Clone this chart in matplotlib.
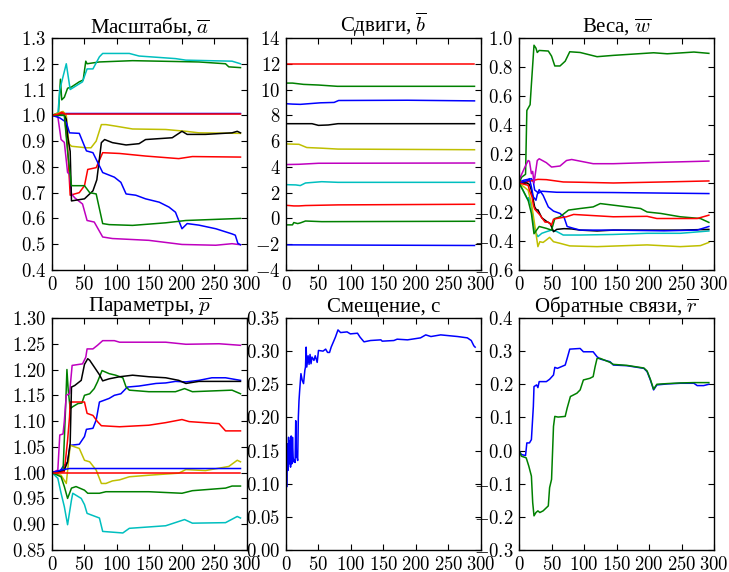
import matplotlib
matplotlib.use("Agg")
import matplotlib.pyplot as plt
from matplotlib.ticker import FormatStrFormatter, MultipleLocator

plt.rcParams['font.family'] = ['Liberation Serif', 'DejaVu Serif']
plt.rcParams['mathtext.fontset'] = 'cm'

# ---- data: (iteration, value) pairs ----
# Масштабы, a
a_blue_flat = [(0, 1.0), (10, 1.007), (290, 1.007)]
a_green_up = [(0, 1.0), (10, 1.01), (13, 1.14), (15, 1.06), (19, 1.07), (24, 1.105), (30, 1.11),
              (42, 1.13), (48, 1.137), (52, 1.21), (54, 1.2), (73, 1.207), (124, 1.212),
              (226, 1.207), (267, 1.2), (272, 1.188), (290, 1.185)]
a_red_low = [(0, 1.0), (19, 1.008), (24, 0.88), (28, 0.69), (42, 0.70), (50, 0.727), (55, 0.79),
             (68, 0.797), (78, 0.855), (104, 0.852), (144, 0.842), (195, 0.832), (216, 0.84),
             (290, 0.838)]
a_cyan = [(0, 1.0), (9, 1.0), (12, 1.1), (22, 1.2), (28, 1.1), (47, 1.13), (54, 1.18), (63, 1.18),
          (73, 1.227), (78, 1.24), (119, 1.24), (134, 1.23), (190, 1.22), (206, 1.214),
          (277, 1.21), (290, 1.2)]
a_magenta = [(0, 1.0), (9, 0.995), (14, 0.906), (19, 0.895), (24, 0.778), (27, 0.772), (30, 0.695),
             (35, 0.68), (47, 0.656), (54, 0.592), (65, 0.586), (78, 0.528), (93, 0.522),
             (149, 0.515), (200, 0.499), (252, 0.496), (277, 0.502), (290, 0.498)]
a_yellow = [(0, 1.0), (17, 1.015), (22, 1.0), (26, 0.89), (30, 0.88), (53, 0.874), (60, 0.874),
            (68, 0.9), (76, 0.964), (83, 0.964), (98, 0.958), (124, 0.947), (175, 0.945),
            (206, 0.938), (226, 0.932), (290, 0.93)]
a_black = [(0, 1.0), (19, 1.0), (22, 0.985), (24, 0.92), (28, 0.86), (30, 0.668), (50, 0.676),
           (55, 0.688), (63, 0.707), (69, 0.75), (76, 0.894), (81, 0.906), (93, 0.894),
           (114, 0.885), (134, 0.89), (144, 0.906), (185, 0.913), (200, 0.938), (208, 0.926),
           (236, 0.926), (277, 0.932), (285, 0.938), (290, 0.932)]
a_blue_down = [(0, 1.0), (12, 0.99), (22, 0.973), (27, 0.932), (42, 0.93), (53, 0.862), (63, 0.855),
               (78, 0.778), (96, 0.76), (106, 0.74), (114, 0.695), (129, 0.69), (144, 0.676),
               (165, 0.663), (180, 0.644), (190, 0.624), (200, 0.56), (208, 0.58), (226, 0.574),
               (252, 0.56), (277, 0.54), (282, 0.535), (286, 0.503), (290, 0.498)]
a_green_low = [(0, 1.0), (19, 1.0), (24, 0.86), (30, 0.727), (50, 0.727), (58, 0.70), (68, 0.695),
               (78, 0.58), (88, 0.576), (124, 0.573), (175, 0.583), (206, 0.592), (290, 0.60)]
a_red_flat = [(0, 1.0), (10, 1.005), (15, 1.012), (20, 1.005), (290, 1.005)]

# Сдвиги, b
b_red_top = [(0, 12.0), (290, 12.0)]
b_green_top = [(0, 10.5), (10, 10.5), (27, 10.4), (50, 10.35), (79, 10.25), (290, 10.25)]
b_blue_top = [(0, 8.9), (10, 8.87), (22, 8.85), (40, 8.92), (53, 8.97), (74, 9.0), (81, 9.15),
              (187, 9.17), (290, 9.12)]
b_black = [(0, 7.35), (40, 7.35), (50, 7.22), (65, 7.25), (80, 7.35), (290, 7.35)]
b_yellow = [(0, 5.78), (20, 5.75), (32, 5.5), (55, 5.45), (80, 5.38), (290, 5.33)]
b_magenta = [(0, 4.18), (20, 4.2), (50, 4.28), (290, 4.3)]
b_cyan = [(0, 2.62), (15, 2.6), (22, 2.55), (30, 2.75), (55, 2.85), (80, 2.8), (290, 2.8)]
b_red_low = [(0, 1.02), (12, 0.97), (20, 0.97), (30, 1.0), (80, 1.05), (290, 1.1)]
b_green_low = [(0, -0.5), (10, -0.5), (12, -0.32), (18, -0.4), (22, -0.35), (30, -0.2),
               (55, -0.25), (290, -0.22)]
b_blue_low = [(0, -2.05), (290, -2.1)]

# Веса, w
w_green_top = [(0, 0.0), (4, 0.04), (10, 0.06), (12, 0.5), (17, 0.54), (19, 0.68), (23, 0.95),
               (26, 0.93), (28, 0.9), (31, 0.914), (45, 0.91), (50, 0.875), (55, 0.807),
               (63, 0.807), (71, 0.84), (78, 0.905), (94, 0.9), (120, 0.871), (145, 0.88),
               (207, 0.898), (228, 0.891), (269, 0.903), (292, 0.894)]
w_magenta = [(0, 0.02), (9, 0.11), (14, 0.155), (16, 0.15), (19, 0.064), (21, 0.08), (23, 0.0),
             (28, 0.155), (31, 0.167), (42, 0.14), (50, 0.11), (63, 0.117), (73, 0.155),
             (81, 0.162), (114, 0.133), (145, 0.133), (197, 0.14), (292, 0.151)]
w_red_top = [(0, 0.007), (12, 0.007), (22, 0.018), (29, 0.025), (42, 0.023), (68, 0.007),
             (94, 0.005), (145, 0.0), (222, 0.007), (292, 0.014)]
w_blue_top = [(0, 0.007), (8, 0.02), (19, 0.03), (22, 0.007), (24, -0.048), (30, -0.07),
              (35, -0.057), (58, -0.064), (145, -0.066), (292, -0.073)]
w_green_low = [(0, 0.0), (6, -0.05), (14, -0.12), (19, -0.21), (23, -0.35), (27, -0.325),
               (31, -0.3), (42, -0.313), (50, -0.325), (55, -0.245), (63, -0.233), (76, -0.187),
               (94, -0.176), (114, -0.165), (125, -0.142), (145, -0.153), (187, -0.176),
               (197, -0.2), (218, -0.21), (248, -0.233), (279, -0.245), (292, -0.272)]
w_red_low = [(0, 0.0), (14, -0.016), (16, -0.05), (20, -0.096), (22, -0.15), (24, -0.18),
             (32, -0.22), (40, -0.27), (45, -0.27), (50, -0.29), (53, -0.25), (58, -0.245),
             (73, -0.233), (84, -0.217), (145, -0.233), (197, -0.23), (212, -0.245),
             (274, -0.245), (292, -0.222)]
w_blue_low = [(0, 0.0), (14, 0.018), (16, 0.03), (19, -0.027), (22, -0.096), (26, -0.119),
              (28, -0.08), (31, -0.046), (37, -0.085), (45, -0.165), (53, -0.194), (63, -0.21),
              (69, -0.233), (74, -0.3), (84, -0.313), (94, -0.325), (145, -0.325), (223, -0.33),
              (274, -0.325), (292, -0.3)]
w_black = [(0, 0.0), (12, 0.0), (16, -0.01), (19, -0.05), (22, -0.119), (24, -0.165),
           (27, -0.187), (29, -0.185), (35, -0.24), (43, -0.267), (48, -0.28), (53, -0.336),
           (58, -0.32), (69, -0.315), (81, -0.317), (94, -0.325), (120, -0.331), (145, -0.325),
           (248, -0.325), (292, -0.32)]
w_cyan = [(0, 0.0), (6, -0.05), (11, -0.096), (14, -0.12), (15, -0.1), (19, -0.165), (24, -0.325),
          (29, -0.37), (35, -0.347), (42, -0.336), (50, -0.325), (58, -0.335), (68, -0.359),
          (94, -0.359), (145, -0.355), (197, -0.347), (248, -0.347), (292, -0.331)]
w_yellow = [(0, 0.0), (14, -0.05), (19, -0.14), (23, -0.256), (26, -0.347), (29, -0.439),
            (32, -0.405), (37, -0.41), (42, -0.393), (47, -0.375), (53, -0.405), (63, -0.416),
            (78, -0.434), (120, -0.439), (197, -0.427), (248, -0.439), (279, -0.432),
            (292, -0.41)]

# Параметры, p
p_magenta = [(0, 1.0), (9, 1.005), (12, 1.073), (17, 1.075), (19, 1.1), (22, 1.15), (27, 1.153),
             (31, 1.208), (47, 1.211), (52, 1.224), (54, 1.24), (63, 1.24), (70, 1.247),
             (78, 1.256), (96, 1.256), (104, 1.253), (175, 1.253), (206, 1.249), (257, 1.25),
             (290, 1.247)]
p_black = [(0, 1.0), (19, 1.005), (24, 1.021), (28, 1.057), (30, 1.166), (35, 1.169), (45, 1.179),
           (50, 1.21), (55, 1.221), (58, 1.218), (65, 1.205), (73, 1.19), (78, 1.178),
           (88, 1.182), (104, 1.186), (124, 1.189), (149, 1.186), (175, 1.184), (195, 1.179),
           (206, 1.173), (226, 1.177), (290, 1.177)]
p_blue_up = [(0, 1.0), (12, 1.002), (17, 1.012), (24, 1.02), (28, 1.053), (42, 1.055), (50, 1.07),
             (53, 1.084), (63, 1.086), (68, 1.102), (73, 1.137), (88, 1.144), (96, 1.15),
             (106, 1.153), (116, 1.166), (134, 1.168), (160, 1.173), (175, 1.174), (190, 1.177),
             (206, 1.176), (226, 1.179), (246, 1.184), (267, 1.184), (290, 1.179)]
p_green_up = [(0, 1.0), (17, 1.002), (21, 1.128), (23, 1.2), (25, 1.16), (28, 1.124), (32, 1.128),
              (40, 1.134), (46, 1.135), (50, 1.15), (58, 1.153), (65, 1.163), (70, 1.176),
              (77, 1.198), (88, 1.192), (98, 1.189), (109, 1.184), (114, 1.166), (119, 1.16),
              (149, 1.157), (190, 1.157), (204, 1.163), (216, 1.157), (277, 1.16), (290, 1.153)]
p_red_up = [(0, 1.0), (19, 1.002), (24, 1.063), (27, 1.108), (28, 1.137), (50, 1.137),
            (54, 1.115), (63, 1.111), (70, 1.099), (76, 1.091), (104, 1.089), (149, 1.092),
            (175, 1.097), (200, 1.103), (211, 1.099), (257, 1.095), (267, 1.081), (290, 1.081)]
p_yellow = [(0, 1.0), (14, 0.995), (22, 0.979), (28, 1.053), (42, 1.047), (50, 1.024),
            (58, 1.021), (68, 1.005), (76, 0.979), (83, 0.979), (93, 0.984), (104, 0.986),
            (119, 0.992), (149, 0.995), (195, 0.999), (206, 1.006), (236, 1.004), (272, 1.012),
            (285, 1.024), (290, 1.021)]
p_blue_flat = [(0, 1.0), (14, 1.005), (27, 1.008), (290, 1.008)]
p_green_low = [(0, 1.0), (14, 0.992), (19, 0.973), (24, 0.95), (30, 0.97), (37, 0.973),
               (50, 0.966), (55, 0.96), (73, 0.96), (83, 0.963), (149, 0.963), (200, 0.96),
               (216, 0.965), (267, 0.97), (277, 0.974), (290, 0.974)]
p_cyan = [(0, 1.0), (9, 0.989), (14, 0.96), (19, 0.934), (24, 0.899), (30, 0.947), (32, 0.96),
          (45, 0.95), (50, 0.938), (54, 0.921), (73, 0.912), (78, 0.886), (109, 0.883),
          (119, 0.892), (175, 0.897), (204, 0.909), (216, 0.902), (267, 0.903), (285, 0.915),
          (290, 0.912)]
p_red_flat = [(0, 1.0), (290, 1.0)]

# Смещение, c
c_blue = [(0, 0.19), (1, 0.095), (2, 0.16), (3, 0.12), (4, 0.17), (5, 0.13), (6, 0.165),
          (7, 0.125), (8, 0.172), (9, 0.13), (10, 0.17), (11, 0.14), (12, 0.133), (13, 0.135),
          (14, 0.132), (15, 0.195), (16, 0.14), (17, 0.14), (18, 0.135), (19, 0.2), (20, 0.225),
          (21, 0.24), (23, 0.266), (25, 0.256), (27, 0.251), (29, 0.271), (30, 0.276),
          (31, 0.306), (32, 0.276), (34, 0.293), (35.5, 0.28), (37, 0.295), (38.5, 0.281),
          (40, 0.291), (43, 0.286), (45, 0.293), (48, 0.283), (50, 0.301), (57, 0.30),
          (61, 0.303), (64, 0.298), (67, 0.298), (69.5, 0.306), (76, 0.321), (80, 0.332),
          (84, 0.328), (94, 0.329), (99, 0.326), (110, 0.327), (114, 0.321), (120, 0.314),
          (130, 0.316), (146, 0.317), (148, 0.315), (166, 0.316), (171, 0.318), (187, 0.317),
          (207, 0.32), (215, 0.3245), (223, 0.322), (238, 0.3245), (264, 0.322), (279, 0.32),
          (285, 0.316), (289, 0.308), (291, 0.306)]

# Обратные связи, r
r_blue = [(0, 0.0), (3.6, -0.012), (10, -0.015), (12, 0.023), (16, 0.023), (19, 0.033),
          (22, 0.133), (23, 0.193), (27, 0.198), (29, 0.19), (31, 0.208), (42, 0.208),
          (47, 0.215), (53, 0.228), (55, 0.251), (59, 0.248), (71, 0.258), (74, 0.278),
          (78, 0.306), (94, 0.308), (99, 0.298), (114, 0.298), (120, 0.283), (125, 0.276),
          (140, 0.268), (145, 0.258), (166, 0.256), (192, 0.248), (197, 0.238), (202, 0.213),
          (207, 0.183), (212, 0.198), (228, 0.201), (248, 0.203), (269, 0.203), (274, 0.196),
          (284, 0.196), (292, 0.2)]
r_green = [(0, 0.0), (3.6, -0.017), (11, -0.022), (15, -0.047), (19, -0.077), (21, -0.157),
           (23, -0.197), (26, -0.187), (29, -0.182), (32, -0.187), (37, -0.182), (45, -0.167),
           (47, -0.112), (50, -0.087), (53, 0.073), (55, 0.103), (60, 0.101), (71, 0.103),
           (74, 0.128), (79, 0.163), (89, 0.173), (94, 0.183), (99, 0.213), (109, 0.218),
           (114, 0.223), (117, 0.253), (120, 0.278), (125, 0.278), (140, 0.266), (145, 0.26),
           (166, 0.257), (192, 0.249), (197, 0.24), (202, 0.215), (207, 0.185), (212, 0.2),
           (228, 0.202), (248, 0.204), (269, 0.205), (292, 0.205)]

panels = [
    (r'Масштабы, $\overline{a}$', [a_blue_flat, a_green_up, a_red_low, a_cyan, a_magenta,
                                    a_yellow, a_black, a_blue_down, a_green_low, a_red_flat],
     (0.4, 1.3), 0.1, '$%.1f$'),
    (r'Сдвиги, $\overline{b}$', [b_blue_low, b_green_top, b_red_top, b_cyan, b_magenta,
                                  b_yellow, b_black, b_blue_top, b_green_low, b_red_low],
     (-4, 14), 2, '$%d$'),
    (r'Веса, $\overline{w}$', [w_blue_top, w_green_top, w_red_top, w_cyan, w_magenta,
                                w_yellow, w_black, w_blue_low, w_green_low, w_red_low],
     (-0.6, 1.0), 0.2, '$%.1f$'),
    (r'Параметры, $\overline{p}$', [p_blue_up, p_green_up, p_red_up, p_cyan, p_magenta,
                                     p_yellow, p_black, p_blue_flat, p_green_low, p_red_flat],
     (0.85, 1.30), 0.05, '$%.2f$'),
    ('Смещение, c', [c_blue], (0.0, 0.35), 0.05, '$%.2f$'),
    (r'Обратные связи, $\overline{r}$', [r_blue, r_green], (-0.3, 0.4), 0.1, '$%.1f$'),
]

colors = ['b', 'g', 'r', 'c', 'm', 'y', 'k', 'b', 'g', 'r']

fig = plt.figure(figsize=(7.29, 5.72), dpi=100)
lefts = [0.0713, 0.3923, 0.712]
bottoms = [0.528, 0.0385]
w, h = 0.2675, 0.4056

for i, (title, series, ylim, step, fmt) in enumerate(panels):
    ax = fig.add_axes([lefts[i % 3], bottoms[i // 3], w, h])
    for j, pts in enumerate(series):
        xs = [p[0] for p in pts]
        ys = [p[1] for p in pts]
        ax.plot(xs, ys, color=colors[j], lw=1.1)
    ax.set_xlim(0, 300)
    ax.set_ylim(*ylim)
    ax.xaxis.set_major_locator(MultipleLocator(50))
    ax.yaxis.set_major_locator(MultipleLocator(step))
    ax.xaxis.set_major_formatter(FormatStrFormatter('$%d$'))
    ax.yaxis.set_major_formatter(FormatStrFormatter(fmt))
    ax.tick_params(direction='in', top=True, right=True, length=4, width=0.8,
                   labelsize=13.5, pad=4)
    for s in ax.spines.values():
        s.set_linewidth(1.0)
    ax.set_title(title, fontsize=15, pad=4)

fig.savefig('out.png', dpi=100)
